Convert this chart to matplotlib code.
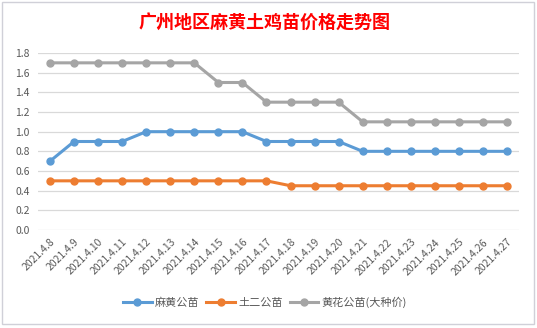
import matplotlib.pyplot as plt
from matplotlib.patches import Rectangle

plt.rcParams['font.family'] = ['Noto Sans CJK SC', 'DejaVu Sans']

# 数据
dates = ['2021.4.8', '2021.4.9', '2021.4.10', '2021.4.11', '2021.4.12',
         '2021.4.13', '2021.4.14', '2021.4.15', '2021.4.16', '2021.4.17',
         '2021.4.18', '2021.4.19', '2021.4.20', '2021.4.21', '2021.4.22',
         '2021.4.23', '2021.4.24', '2021.4.25', '2021.4.26', '2021.4.27']
mahuang = [0.7, 0.9, 0.9, 0.9, 1.0, 1.0, 1.0, 1.0, 1.0, 0.9,
           0.9, 0.9, 0.9, 0.8, 0.8, 0.8, 0.8, 0.8, 0.8, 0.8]
tuer = [0.5, 0.5, 0.5, 0.5, 0.5, 0.5, 0.5, 0.5, 0.5, 0.5,
        0.45, 0.45, 0.45, 0.45, 0.45, 0.45, 0.45, 0.45, 0.45, 0.45]
huanghua = [1.7, 1.7, 1.7, 1.7, 1.7, 1.7, 1.7, 1.5, 1.5, 1.3,
            1.3, 1.3, 1.3, 1.1, 1.1, 1.1, 1.1, 1.1, 1.1, 1.1]
yticks = [0.0, 0.2, 0.4, 0.6, 0.8, 1.0, 1.2, 1.4, 1.6, 1.8]

W, H = 537, 328
fig = plt.figure(figsize=(W / 100, H / 100), dpi=100)
fig.patch.set_facecolor('white')

# 图表边框
fig.patches.append(Rectangle((2 / W, 1 - 324 / H), 532 / W, 322 / H,
                             transform=fig.transFigure, fill=False,
                             edgecolor='#D0D0D8', linewidth=1.0))

ax = fig.add_axes([38 / W, 1 - 230 / H, 481 / W, 177 / H])
x = list(range(len(dates)))

ax.plot(x, mahuang, color='#5B9BD5', lw=2.2, marker='o', ms=5, label='麻黄公苗')
ax.plot(x, tuer, color='#ED7D31', lw=2.2, marker='o', ms=5, label='土二公苗')
ax.plot(x, huanghua, color='#A5A5A5', lw=2.2, marker='o', ms=5, label='黄花公苗(大种价)')

ax.set_xlim(-0.5, len(dates) - 0.5)
ax.set_ylim(0, 1.8)
ax.set_yticks(yticks)
ax.set_yticklabels([f'{v:.1f}' for v in yticks], fontsize=7.5, color='#595959')
ax.set_xticks(x)
ax.set_xticklabels(dates, rotation=45, ha='right', rotation_mode='anchor',
                   fontsize=7.5, color='#595959')
ax.tick_params(length=0, pad=6)
ax.tick_params(axis='x', pad=5)
ax.grid(axis='y', color='#D9D9D9', lw=0.9)
ax.set_axisbelow(True)
for s in ax.spines.values():
    s.set_visible(False)

fig.text(265 / W, 1 - 22 / H, '广州地区麻黄土鸡苗价格走势图', color='red',
         fontsize=13, fontweight='bold', ha='center', va='center')

fig.legend(loc='center', bbox_to_anchor=(265 / W, 1 - 302 / H), ncol=3,
           frameon=False, fontsize=8, handlelength=2.6, columnspacing=0.6,
           handletextpad=0.3, labelcolor='#595959')

fig.savefig('out.png', dpi=100)
